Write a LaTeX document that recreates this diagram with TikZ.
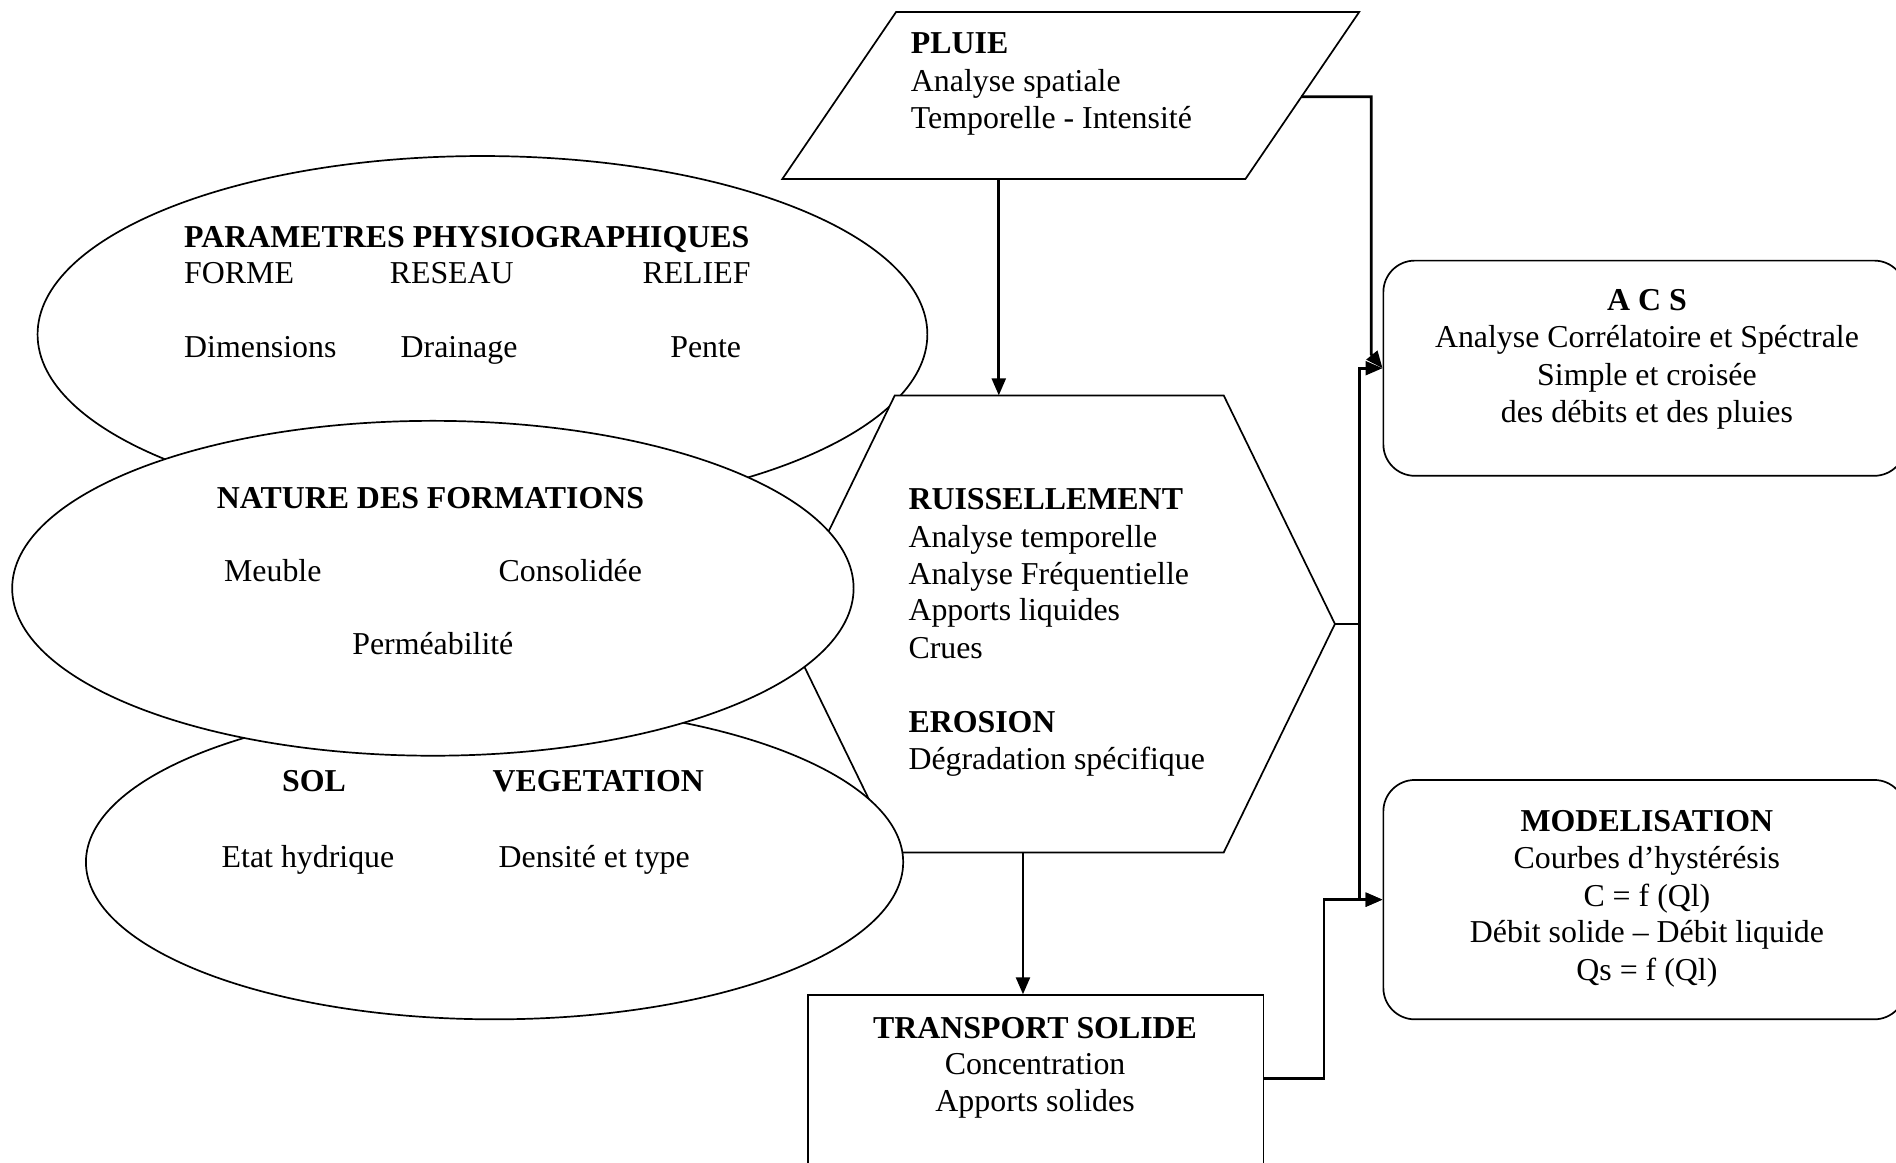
\documentclass[tikz,border=0pt]{standalone}
\usepackage{fontspec}
\setmainfont{Liberation Serif}
\usetikzlibrary{shapes.geometric,arrows.meta}
\begin{document}
\begin{tikzpicture}[x=0.02cm,y=-0.02cm,
  shp/.style={draw,line width=0.8pt,fill=white},
  ell/.style={shp,ellipse,inner sep=0pt},
  rbox/.style={shp,rectangle,rounded corners=0.52cm,inner sep=0pt},
  conn/.style={line width=1.3pt},
  arr/.style={conn,-{Triangle[length=8pt,width=6.5pt]}},
  txt/.style={inner sep=0pt,font=\fontsize{15}{17.64}\selectfont},
  hd/.style={inner sep=0pt,font=\fontsize{15}{17.64}\selectfont\bfseries},
]
\useasboundingbox (0,0) rectangle (1568,961);
\clip (0,0) rectangle (1568,961);
\fill[white] (0,0) rectangle (1568,961);

% PARAMETRES ellipse
\node[ell,minimum width=14.72cm,minimum height=5.9cm] (phys) at (399,276.5) {};
% hexagon
\draw[shp] (740,327) coordinate (hexNW) -- (1012,327) coordinate (hexNE)
  -- (1104,516) coordinate (hexE) -- (1012,705) coordinate (hexSE)
  -- (740,705) coordinate (hexSW) -- (648,516) coordinate (hexW) -- cycle;
\coordinate (hexN) at (826,327);
\coordinate (hexS) at (846,705);
% SOL ellipse
\node[ell,minimum width=13.52cm,minimum height=5.2cm] (sol) at (409,713) {};
% NATURE ellipse
\node[ell,minimum width=13.92cm,minimum height=5.54cm] (nat) at (358,486.5) {};
% PLUIE parallelogram
\draw[shp] (741,10) coordinate (plNW) -- (1124,10) coordinate (plNE)
  -- (1030,148) coordinate (plSE) -- (647,148) coordinate (plSW) -- cycle;
\coordinate (pluieS) at (826,148);
\coordinate (pluieE) at (1076,80);
% TRANSPORT box
\node[shp,rectangle,minimum width=7.54cm,minimum height=3.54cm,inner sep=0pt] (tr) at (856.5,911.5) {};
\coordinate (trE) at (1045,892);
% ACS and MODELISATION boxes
\node[rbox,minimum width=8.64cm,minimum height=3.56cm] (acs) at (1360,304.5) {};
\node[rbox,minimum width=8.64cm,minimum height=3.96cm] (model) at (1360,744) {};

% connectors
\draw[arr] (pluieS) -- (hexN);
\draw[arr] (hexS) -- (hexS |- tr.north);
\draw[arr] (pluieE) -- (1134,80) -- (1134,293) -- (acs.west);
\coordinate (jn) at (1124,516);
\draw[conn] (hexE) -- (jn);
\draw[arr] (jn) -- (jn |- acs.west) -- (acs.west);
\draw[arr] (jn) -- (jn |- model.west) -- (model.west);
\coordinate (trC) at (1095,892);
\draw[arr] (trE) -- (trC) -- (trC |- model.west) -- (model.west);

% PLUIE texts
\node[hd,anchor=base west] (p1) at (753,44.5) {PLUIE};
\node[txt,anchor=base west] (p2) at (753,75.5) {Analyse spatiale};
\node[txt,anchor=base west] (p3) at (753,106.5) {Temporelle - Intensité};
% PARAMETRES texts
\node[hd,anchor=base west] (a1) at (152,204.5) {PARAMETRES PHYSIOGRAPHIQUES};
\node[txt,anchor=base west] (a2) at (152,234.5) {FORME};
\node[txt,anchor=base west] (a3) at (322,234.5) {RESEAU};
\node[txt,anchor=base west] (a4) at (531,234.5) {RELIEF};
\node[txt,anchor=base west] (a5) at (152,295.5) {Dimensions};
\node[txt,anchor=base west] (a6) at (331,295.5) {Drainage};
\node[txt,anchor=base west] (a7) at (554,295.5) {Pente};
% NATURE texts
\node[hd,anchor=base west] (n1) at (179,420.5) {NATURE DES FORMATIONS};
\node[txt,anchor=base west] (n2) at (185,480.5) {Meuble};
\node[txt,anchor=base west] (n3) at (412,480.5) {Consolidée};
\node[txt,anchor=base west] (n4) at (291,541.5) {Perméabilité};
% SOL texts
\node[hd,anchor=base west] (s1) at (233,654.5) {SOL};
\node[hd,anchor=base west] (s2) at (407,654.5) {VEGETATION};
\node[txt,anchor=base west] (s3) at (183,717.5) {Etat hydrique};
\node[txt,anchor=base west] (s4) at (412,717.5) {Densité et type};
% hexagon texts
\node[hd,anchor=base west] (h1) at (751,421.5) {RUISSELLEMENT};
\node[txt,anchor=base west] (h2) at (751,452.5) {Analyse temporelle};
\node[txt,anchor=base west] (h3) at (751,483.5) {Analyse Fréquentielle};
\node[txt,anchor=base west] (h4) at (751,513.5) {Apports liquides};
\node[txt,anchor=base west] (h5) at (751,544.5) {Crues};
\node[hd,anchor=base west] (h6) at (751,605.5) {EROSION};
\node[txt,anchor=base west] (h7) at (751,636.5) {Dégradation spécifique};
% ACS texts
\node[hd,anchor=base] (c1) at (1362,256.5) {A C S};
\node[txt,anchor=base] (c2) at (1362,287.5) {Analyse Corrélatoire et Spéctrale};
\node[txt,anchor=base] (c3) at (1362,318.5) {Simple et croisée};
\node[txt,anchor=base] (c4) at (1362,349.5) {des débits et des pluies};
% MODELISATION texts
\node[hd,anchor=base] (m1) at (1362,687.5) {MODELISATION};
\node[txt,anchor=base] (m2) at (1362,718.5) {Courbes d’hystérésis};
\node[txt,anchor=base] (m3) at (1362,749.5) {C = f (Ql)};
\node[txt,anchor=base] (m4) at (1362,779.5) {Débit solide – Débit liquide};
\node[txt,anchor=base] (m5) at (1362,810.5) {Qs = f (Ql)};
% TRANSPORT texts
\node[hd,anchor=base] (r1) at (856,858.5) {TRANSPORT SOLIDE};
\node[txt,anchor=base] (r2) at (856,888.5) {Concentration};
\node[txt,anchor=base] (r3) at (856,919.5) {Apports solides};
\end{tikzpicture}
\end{document}
